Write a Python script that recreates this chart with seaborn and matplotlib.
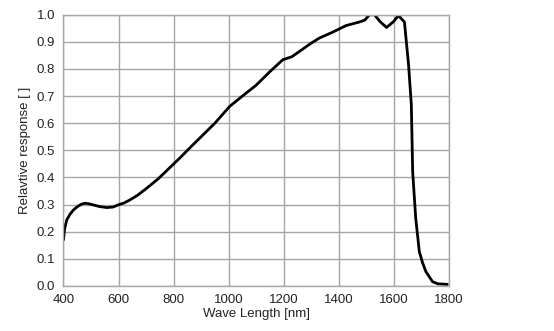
import matplotlib
matplotlib.use("Agg")
import matplotlib.pyplot as plt
import seaborn as sns
import pandas as pd

wavelength = [400, 404, 412, 424, 436, 450, 464, 478, 492, 508, 530, 557, 580, 599,
              620, 641, 670, 702, 744, 780, 822, 860, 900, 950, 1004, 1050, 1100,
              1150, 1197, 1230, 1258, 1300, 1330, 1379, 1427, 1475, 1495, 1512, 1530,
              1550, 1574, 1600, 1617, 1639, 1654, 1664, 1669, 1680, 1693, 1705, 1717,
              1741, 1760, 1795]
response = [0.17, 0.21, 0.244, 0.265, 0.28, 0.292, 0.301, 0.305, 0.303, 0.299, 0.293,
            0.289, 0.291, 0.299, 0.306, 0.317, 0.335, 0.36, 0.395, 0.43, 0.471, 0.51,
            0.55, 0.6, 0.662, 0.7, 0.74, 0.79, 0.834, 0.845, 0.865, 0.895, 0.914, 0.936,
            0.96, 0.973, 0.98, 1.0, 1.0, 0.975, 0.953, 0.975, 0.997, 0.973, 0.815, 0.67,
            0.42, 0.25, 0.127, 0.085, 0.053, 0.016, 0.008, 0.006]

df = pd.DataFrame({"Wave Length [nm]": wavelength, "Relavtive response [ ]": response})

sns.set_style("white")
plt.rcParams["font.family"] = ["Liberation Sans", "DejaVu Sans"]

fig = plt.figure(figsize=(5.54, 3.31), dpi=100)
ax = fig.add_axes([0.1146, 0.136, 0.6954, 0.8196])

sns.lineplot(data=df, x="Wave Length [nm]", y="Relavtive response [ ]", ax=ax,
             color="black", linewidth=2.0, sort=False)

ax.set_xlim(400, 1800)
ax.set_ylim(0, 1.0)
ax.set_xticks(range(400, 1801, 200))
ax.set_yticks([i / 10 for i in range(11)])
ax.set_yticklabels([f"{i/10:.1f}" for i in range(11)])
ax.grid(True, color="#a6a6a6", linewidth=1.0)
ax.set_axisbelow(True)
for s in ax.spines.values():
    s.set_color("#a6a6a6")
    s.set_linewidth(1.0)
ax.tick_params(length=0, labelsize=9.5, colors="#222222", pad=6)
ax.set_xlabel("Wave Length [nm]", fontsize=9.5, color="#222222", labelpad=1)
ax.set_ylabel("Relavtive response [ ]", fontsize=9.5, color="#222222", labelpad=4)

fig.savefig("out.png", dpi=100)
